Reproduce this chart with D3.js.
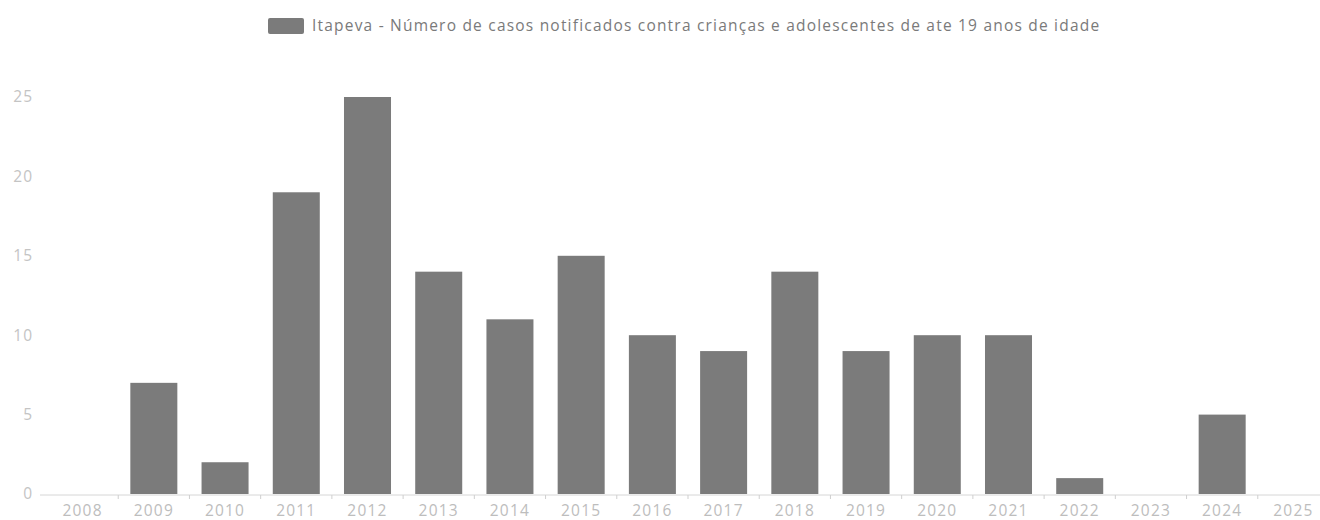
<!DOCTYPE html>
<html><head><meta charset="utf-8">
<script src="https://cdn.jsdelivr.net/npm/d3@7"></script>
<style>body{margin:0;background:#fff;} svg{display:block;font-family:"Open Sans",sans-serif;}</style>
</head><body>
<svg id="chart" width="1320" height="520"></svg>
<script>
const years = ["2008","2009","2010","2011","2012","2013","2014","2015","2016","2017","2018","2019","2020","2021","2022","2023","2024","2025"];
const values = [0,7,2,19,25,14,11,15,10,9,14,9,10,10,1,0,5,0];
const yTicks = [0,5,10,15,20,25];
const seriesLabel = "Itapeva - Número de casos notificados contra crianças e adolescentes de ate 19 anos de idade";

const svg = d3.select("#chart");
const x = d3.scaleBand().domain(years).range([47, 1329]).paddingInner(0.34).paddingOuter(0.17);
const y = d3.scaleLinear().domain([0, 25]).range([494, 97]);

// bars
svg.append("g").selectAll("rect").data(years).join("rect")
  .attr("x", d => x(d))
  .attr("width", x.bandwidth())
  .attr("y", (d,i) => y(values[i]))
  .attr("height", (d,i) => y(0) - y(values[i]))
  .attr("fill", "#7b7b7b");

// x axis
const step = x.step();
const xAxis = svg.append("g").attr("transform", `translate(0,${y(0)+1})`);
xAxis.append("line").attr("x1", 40).attr("x2", 1329).attr("y1", 0).attr("y2", 0)
  .attr("stroke", "#d6d6d6").attr("stroke-width", 1);
xAxis.selectAll("line.tk").data(years.slice(1)).join("line").attr("class","tk")
  .attr("x1", d => x(d) - step*0.17).attr("x2", d => x(d) - step*0.17)
  .attr("y1", 0).attr("y2", 4).attr("stroke", "#cfcfcf");
xAxis.selectAll("text").data(years).join("text")
  .attr("x", d => x(d) + x.bandwidth()/2).attr("y", 21)
  .attr("text-anchor", "middle").attr("font-size", 15.5).attr("letter-spacing", 1.2)
  .attr("fill", "#bdbdbd")
  .text(d => d);

// y labels
svg.append("g").selectAll("text").data(yTicks).join("text")
  .attr("x", 33).attr("y", d => y(d)).attr("dy", "0.35em")
  .attr("text-anchor", "end").attr("font-size", 15.5).attr("letter-spacing", 1)
  .attr("fill", "#c4c4c4")
  .text(d => d);

// legend
const lg = svg.append("g");
lg.append("rect").attr("x", 268).attr("y", 18).attr("width", 36).attr("height", 16).attr("rx", 2).attr("fill", "#7b7b7b");
lg.append("text").attr("x", 312).attr("y", 25.5).attr("dy", "0.35em")
  .attr("font-size", 15.5).attr("letter-spacing", 0.9).attr("fill", "#7a7a7a")
  .attr("textLength", 788).attr("lengthAdjust", "spacing")
  .text(seriesLabel);
</script>
</body></html>
